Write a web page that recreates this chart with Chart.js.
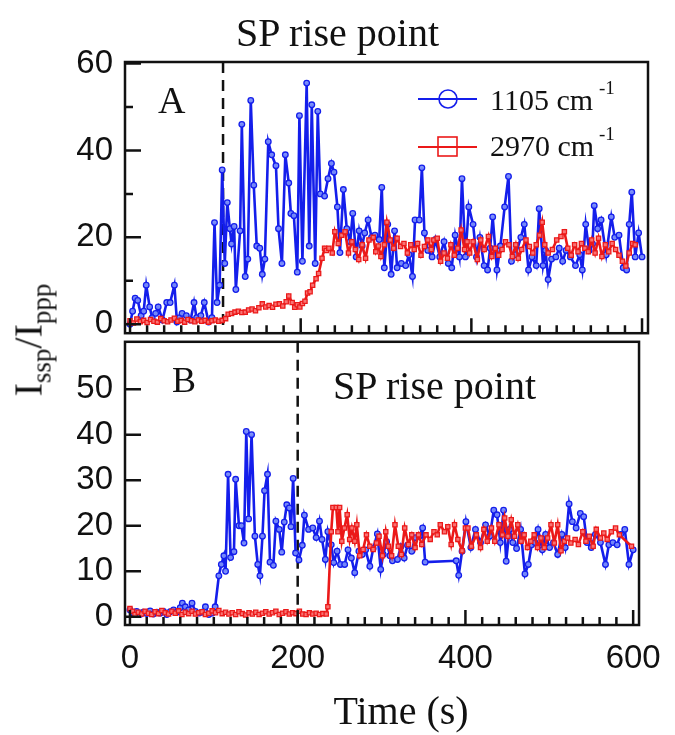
<!DOCTYPE html>
<html>
<head>
<meta charset="utf-8">
<script src="https://cdn.jsdelivr.net/npm/chart.js@4.4.1/dist/chart.umd.min.js"></script>
<style>
body{margin:0;background:#fff;}
#wrap{position:relative;width:675px;height:735px;overflow:hidden;font-family:"Liberation Serif","Times New Roman",serif;color:#111;}
canvas{position:absolute;left:0;}
.lbl{position:absolute;white-space:nowrap;line-height:1;}
</style>
</head>
<body>
<div id="wrap">
<canvas id="chartA" width="675" height="365" style="top:0"></canvas>
<canvas id="chartB" width="675" height="425" style="top:310px"></canvas>

<div class="lbl" style="left:236px;top:13px;font-size:40px">SP rise point</div>
<div class="lbl" style="left:158px;top:81px;font-size:38px">A</div>
<div class="lbl" style="left:172px;top:362px;font-size:36px">B</div>
<div class="lbl" style="left:333px;top:366px;font-size:40px">SP rise point</div>

<svg style="position:absolute;left:410px;top:85px" width="80" height="80">
  <line x1="8" y1="14" x2="67" y2="14" stroke="rgb(20,30,235)" stroke-width="2.2"/>
  <circle cx="38" cy="14" r="9" fill="none" stroke="rgb(20,30,235)" stroke-width="1.6"/>
  <line x1="8" y1="62" x2="67" y2="62" stroke="rgb(235,25,25)" stroke-width="2.2"/>
  <rect x="28" y="52" width="19" height="19" fill="none" stroke="rgb(235,25,25)" stroke-width="1.6"/>
</svg>
<div class="lbl" style="left:490px;top:85px;font-size:30px">1105 cm</div>
<div class="lbl" style="left:599px;top:78px;font-size:19px">-1</div>
<div class="lbl" style="left:490px;top:131px;font-size:30px">2970 cm</div>
<div class="lbl" style="left:599px;top:124px;font-size:19px">-1</div>

<div class="lbl" style="left:32px;top:340px;font-size:40px;transform:translate(-50%,-50%) rotate(-90deg)">I<sub style="font-size:27px">ssp</sub>/I<sub style="font-size:27px">ppp</sub></div>
<div class="lbl" style="left:401px;top:691px;font-size:40px;transform:translateX(-50%)">Time (s)</div>
</div>

<script>
// panel A (top), 1105 cm-1
var timeA1 = [0,3,6,9,13,16,19,23,26,30,
  33,38,43,47,52,55,58,61,66,71,
  75,78,83,87,92,96,99,102,105,108,
  111,114,117,119,122,124,129,131,135,138,
  141.5,145,148.5,152,155,158,162,166,171,174,
  178,182,186,188.5,192,196,198.5,202,207,210,
  213,217,220,223,228,232,236,239,243,246,
  250,254,258,261,265,268.5,272,275,279,283,
  287,292,295,298,302,306,310,313,318,323,
  327,331,334,339,342,345,349,354,358,363,
  368,373,377,381,386,389,393,397,402,406,
  410,415,419,422,425,430,434,439,443.5,447,
  452,458,462,467,471,476,479.5,484,487,490,
  494,499,503,507,511,516,522,527,530,534,
  538,542,544,548,552,558,564,568,573,578,
  582,585,588,592,596,600];
var valA1 = [0,3,6,5.5,2,3,9,4,1.5,2.5,
  4,1,5,5,9,0.5,1.5,2.5,2,1,
  5,1.5,2,5,0.5,1.5,23.4,5,9,35.5,
  14,28,22,18.5,22.5,8,21.5,46,11,15,
  51.5,32,18,17.5,11.5,15,42,39,36.5,22,
  14,39,32.5,25.5,25,12,48,14.5,55.5,18,
  50.5,14,49,30,29.5,33.5,37,35,27,16.5,
  31,22,19,25.5,15.5,21.5,18,21,24,20,
  20.5,19.5,31.5,13,23,11.5,21.5,13,14,13.5,
  16,11,24,24,36,21,17,15.5,19.5,15.5,
  19,14,13,20.5,15.5,33.5,15.5,27,23,15.5,
  20,13.5,12.5,17.5,24.7,12.5,18,27,34,14.5,
  16,20,23,12.5,15.5,13.5,26.6,13.5,17,10.3,
  15,15.5,17.5,14.5,17,15.5,13.5,16,12.5,23,
  17,18.5,27.3,22,24,16,24.7,20,20.5,13,
  12.5,23,30.4,15.5,21,15.5];

// panel A (top), 2970 cm-1
var timeA2 = [0,4,8,12,16,20,24,28,32,36,
  40,44,48,52,56,60,64,68,72,76,
  80,84,88,92,96,100,104,108,112,115,
  119,123,127,131,135,139,143,147,151,155,
  159,163,167,171,175,179,183,186,190,193,
  196,199,202,205,208,211,214,218,221,225,
  228,230,233,237,240,244,248,252,256,260,
  264,268,272,276,280,285,288,291,294,298,
  301,305,309,313,317,321,325,329,333,337,
  341,345,349,353,356,360,364,368,372,376,
  380,384,388,392,395,398,402,407,411,415,
  420,424,428,432,436,440,444,448,452,455,
  459,464,468,472,476,480,483,486,490,495,
  500,505,509,513,517,521,525,529,533,537,
  541,545,549,553,557,561,565,569,573,577,
  581,585,589,592];
var valA2 = [0.8,0.3,1.2,0.6,0.9,0.4,1.1,0.7,0.5,1.3,
  0.8,0.6,1.0,1.4,0.7,0.9,0.5,1.1,0.8,0.6,
  1.0,0.7,0.9,0.5,0.8,1.0,0.7,0.9,1.3,2.3,
  2.5,2.8,3.0,2.7,2.8,3.3,3.5,3.1,3.8,4.7,
  4.0,4.3,3.9,4.6,4.7,4.2,5.2,6.5,5.0,3.9,
  4.5,4.0,4.8,5.3,7.2,7.5,9.0,10.5,11.7,15.2,
  17.5,17.0,17.5,16.4,21.3,18.6,20.5,21.3,16.4,19,
  17.2,14.9,18.3,15.2,19.4,20,16.7,18,15.6,18.3,
  23.5,19.4,17.5,19.8,17.9,18.6,16.4,18.3,17.2,18.6,
  15.9,17.9,19.4,17.2,19.4,19.8,14.5,16.4,15.2,18.3,
  15.9,17.5,21.7,17.2,19,16.4,19,14.9,19.4,17.2,
  20.2,15.6,17.5,15.9,17.2,19,18.3,15.6,18.3,15.2,
  17.2,19.4,17.9,16.4,18.3,20.5,23.5,18.3,16.4,17.2,
  19.4,20.2,21.3,17.5,15.9,18.3,16.7,18.6,17.5,16.7,
  19.4,16.4,19.8,15.6,18.3,16.7,18.6,17.2,15.9,14.5,
  13.4,16.4,18.6,18.3];

// panel B (bottom), 1105 cm-1
var timeB1 = [0,4,8,12,16,20,24,28,32,36,
  40,44,48,52,56,60,62.5,66,70,74,
  78,82,86,90,94,98,101.6,106,109,112,
  114,117,120,124,126,130,133,136,138.7,141.5,
  145,149,152.4,155,158,160.5,164,167,171,174,
  178,181,184,187,190,192,194.6,197.5,201.5,205.5,
  208,213,218,222,226,229,233,236,240,243,
  247,251,256,260,264,268,273,277,281,286,
  290,295,299,302,306,310,313,319,323,327,
  331,336,340,345,349,352,389,392,396,400.6,
  406.5,412,418,424,429,433.8,437.7,441.6,445.5,448.6,
  452.6,456.5,461,465.8,471,475,479,483,486.6,491.7,
  495.6,500.3,505,510,515,519,523.6,527.5,532,537,
  541,545,550,555,561,567,571,575.8,580.9,585,
  590,595,600];
var valB1 = [1.5,0.8,1.2,0.5,1.0,0.7,1.3,0.6,1.0,0.8,
  1.2,0.5,1.1,1.5,1.0,2.0,3,2.2,1.5,3,
  1.2,0.8,1.0,2.2,0.5,0.8,2.2,9,11.5,13.4,
  10,31.3,13,14.3,30.2,20,20,16.2,40.7,21.5,
  40,17.7,11.5,9,17.7,27.7,31.3,12,11.3,21,
  19.2,14.2,20.8,24.6,23.9,19.8,30.4,14,12.5,15.7,
  22.3,19.2,19.5,17.4,21,17,12.6,18.7,15.8,11.9,
  14.4,11.5,11.5,14.7,12.9,9.7,14.4,13.7,14.7,11.1,
  15,18.2,10.4,13.7,16.5,13.4,12.3,12.6,15.4,12.9,
  15.7,14.4,17.4,17.7,19.5,12,12.3,9.1,14.4,20.9,
  15.2,19.2,16.3,20.2,17.7,23.4,22.4,16.3,23.4,12.2,
  19.2,16.3,15,19.2,9.4,11.5,15.8,16.3,19.2,14.7,
  18.1,15.2,16.3,13.7,18.1,15.2,24.8,20.9,19.5,22.7,
  22,16.3,15.2,18.1,16.3,11.5,15.8,16.3,15.8,18.1,
  19.2,11.5,14.7];

// panel B (bottom), 2970 cm-1
var timeB2 = [0,3,6,10,14,18,22,26,30,34,
  38,42,46,50,54,58,62,66,70,74,
  78,82,86,90,94,98,102,106,110,114,
  118,122,126,130,134,138,142,146,150,154,
  158,162,166,170,174,178,182,186,190,194,
  198,202,206,210,214,218,222,226,230,234,
  236,240,242,246,248,250,252.6,255.7,259,262,
  264.6,268,270.5,274,278,282,286,290,294,297,
  301,305,308,312,316,320,323.6,327.6,332,336,
  340,344,348,353,358,362.5,366.4,370,375,379,
  383,387,391,396,400,403,407,413,418,422,
  426,431,435,440,444,446.8,450.7,454.6,458.5,462.4,
  466.4,470,474,478,482,486,490,494,498,502,
  506,510,514,518,521.8,525.7,530.8,534.7,540,543.7,
  547.6,552.3,556,561,565,569,574,579,583.6,598];
var valB2 = [1.8,1.2,0.5,1.0,0.6,1.2,0.8,0.5,1.1,0.7,
  1.4,0.9,0.6,1.2,0.8,1.3,0.5,1.0,0.7,1.2,
  0.6,0.9,1.1,0.5,0.8,1.3,0.9,1.4,0.7,1.0,
  0.6,0.9,0.5,1.1,0.7,0.4,0.9,0.6,1.0,0.5,
  0.8,1.1,0.6,0.9,1.2,0.5,0.8,1.1,0.6,0.9,
  0.7,1.2,0.6,0.5,0.9,0.6,0.8,0.5,0.7,0.6,
  2.2,18.7,24,24,18.7,24,16.6,19.5,22.4,17,
  19.5,16.6,20.2,13.4,14.8,18,15.5,14.8,16.2,17.7,
  13.4,18.7,15.5,13.4,20.2,15.5,13.7,19.5,15.9,18,
  15.2,18,15.9,18,17,18.7,18,20.2,18.7,19.8,
  15.9,20.2,17,14.5,19.5,19.5,15.5,18,15.2,19.2,
  16.6,19.5,16.6,20.2,18,21.7,17.7,21.3,17.7,20.2,
  16.6,18,15.2,16.6,18,15.2,17.3,15.2,17.3,20.2,
  16.2,20.2,14.5,16.6,17.3,16.2,17,15.9,18.7,16.6,
  17.7,15.5,19.2,17.3,18.4,17,18.7,19.5,18,15.5];

var riseA = 109;   // dashed "SP rise point" line, panel A
var riseB = 200;   // panel B
var xTickLabels = [0,200,400,600];

var blue = 'rgb(20,30,235)';
var red = 'rgb(235,25,25)';

function pts(t,v){
    return t.map((x,i)=>({x:x,y:v[i]}));
}

// frame, inward ticks and dashed marker line
var framePlugin = {
    id:'frame',
    beforeDatasetsDraw(chart,args,opts){
        var ctx = chart.ctx, a = chart.chartArea;
        var x = chart.scales.x.getPixelForValue(opts.rise);
        ctx.save();
        ctx.strokeStyle = '#111';
        ctx.lineWidth = 2.5;
        ctx.setLineDash([11,7]);
        ctx.beginPath();
        ctx.moveTo(x,a.top);
        ctx.lineTo(x,a.bottom);
        ctx.stroke();
        ctx.restore();
    },
    afterDatasetsDraw(chart,args,opts){
        var ctx = chart.ctx, a = chart.chartArea;
        var sx = chart.scales.x, sy = chart.scales.y;
        ctx.save();
        ctx.strokeStyle = '#111';
        ctx.lineWidth = 2.5;
        ctx.strokeRect(a.left,a.top,a.right-a.left,a.bottom-a.top);
        ctx.beginPath();
        for(var t=0;t<=600;t+=20){
            var px = sx.getPixelForValue(t);
            var len = (t%200===0) ? 15 : 8;
            ctx.moveTo(px,a.bottom);
            ctx.lineTo(px,a.bottom-len);
        }
        opts.yMajor.forEach(v=>{
            var py = sy.getPixelForValue(v);
            ctx.moveTo(a.left,py); ctx.lineTo(a.left+16,py);
        });
        opts.yMinor.forEach(v=>{
            var py = sy.getPixelForValue(v);
            ctx.moveTo(a.left,py); ctx.lineTo(a.left+8,py);
        });
        ctx.stroke();
        ctx.restore();
    }
};

function makeDatasets(t1,v1,t2,v2){
    return [{
        label:'2970 cm-1',
        data: pts(t2,v2),
        borderColor: red,
        backgroundColor: red,
        borderWidth: 2.6,
        pointStyle:'rect',
        pointRadius: 3,
        pointBorderWidth: 1.3,
        pointBorderColor: red,
        pointBackgroundColor: 'rgba(250,120,120,0.95)',
        order: 1
    },{
        label:'1105 cm-1',
        data: pts(t1,v1),
        borderColor: blue,
        backgroundColor: blue,
        borderWidth: 2.6,
        pointRadius: 2.8,
        pointBorderWidth: 1.3,
        pointBorderColor: blue,
        pointBackgroundColor: 'rgba(120,140,250,0.95)',
        order: 2
    }];
}

var tickFont = {family:'"Liberation Sans", Arial, sans-serif', size:33};

var chartA = new Chart(document.getElementById('chartA').getContext('2d'), {
    type:'line',
    data:{datasets: makeDatasets(timeA1,valA1,timeA2,valA2)},
    options:{
        responsive:false,
        animation:false,
        devicePixelRatio:1,
        layout:{padding:{top:62,right:27,bottom:28,left:0}},
        plugins:{legend:{display:false},tooltip:{enabled:false},
            frame:{rise:riseA,yMajor:[0,20,40,60],yMinor:[10,30,50]}},
        scales:{
            x:{type:'linear',min:-5.9,max:607,display:false},
            y:{min:-2.05,max:60.35,
                afterFit:function(s){ s.width = 125; },
                grid:{display:false,drawTicks:false},
                border:{display:false},
                ticks:{stepSize:20,includeBounds:false,padding:12,color:'#111',font:tickFont}}
        }
    },
    plugins:[framePlugin]
});

var chartB = new Chart(document.getElementById('chartB').getContext('2d'), {
    type:'line',
    data:{datasets: makeDatasets(timeB1,valB1,timeB2,valB2)},
    options:{
        responsive:false,
        animation:false,
        devicePixelRatio:1,
        layout:{padding:{top:27,right:27,bottom:0,left:0}},
        plugins:{legend:{display:false},tooltip:{enabled:false},
            frame:{rise:riseB,yMajor:[0,10,20,30,40,50],yMinor:[]}},
        scales:{
            x:{type:'linear',min:-5.9,max:607,
                afterFit:function(s){ s.height = 110; },
                afterBuildTicks:function(s){ s.ticks = xTickLabels.map(v=>({value:v})); },
                grid:{display:false,drawTicks:false},
                border:{display:false},
                ticks:{padding:14,maxRotation:0,autoSkip:false,color:'#111',font:tickFont}},
            y:{min:-1.8,max:60.4,
                afterFit:function(s){ s.width = 125; },
                afterBuildTicks:function(s){ s.ticks = s.ticks.filter(k=>k.value<=50); },
                grid:{display:false,drawTicks:false},
                border:{display:false},
                ticks:{stepSize:10,includeBounds:false,padding:12,color:'#111',font:tickFont}}
        }
    },
    plugins:[framePlugin]
});
</script>
</body>
</html>
